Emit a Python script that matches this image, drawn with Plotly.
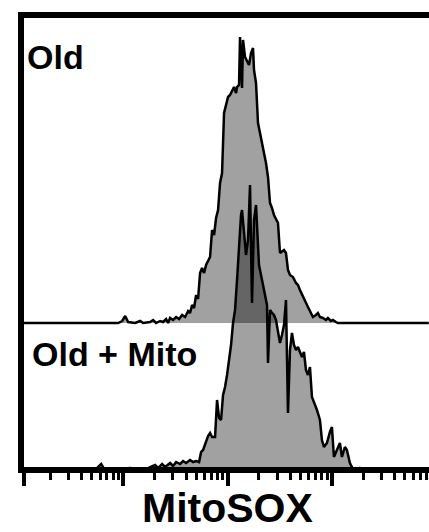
import numpy as np
import plotly.graph_objects as go

# MitoSOX intensity (log10 units) and event counts for each sample
old_log = [1.0335, 1.9522, 1.9904, 2.0191, 2.0478, 2.1148, 2.1627, 2.1914, 2.2584, 2.2871,
           2.3158, 2.3541, 2.3828, 2.4115, 2.4306, 2.4498, 2.4785, 2.5072, 2.5359, 2.5646,
           2.5933, 2.6220, 2.6411, 2.6603, 2.6794, 2.6986, 2.7177, 2.7368, 2.7560, 2.7751,
           2.7943, 2.8134, 2.8325, 2.8517, 2.8708, 2.8900, 2.9091, 2.9282, 2.9474, 2.9665,
           2.9856, 3.0048, 3.0239, 3.0431, 3.0622, 3.0813, 3.0909, 3.1100, 3.1196, 3.1388,
           3.1483, 3.1675, 3.1866, 3.2057, 3.2249, 3.2440, 3.2536, 3.2727, 3.2919, 3.3110,
           3.3301, 3.3493, 3.3684, 3.3876, 3.4067, 3.4258, 3.4450, 3.4641, 3.4833, 3.5024,
           3.5215, 3.5407, 3.5598, 3.5789, 3.5981, 3.6268, 3.6555, 3.6746, 3.6938, 3.7225,
           3.7416, 3.7703, 3.7895, 3.8182, 3.8469, 3.8660, 3.8852, 3.9139, 3.9426, 3.9617,
           3.9904, 4.0096, 4.0383, 4.0574, 4.9282]
old_counts = [0, 0, 2, 7, 1, 0, 2, 0, 1, 3,
              0, 2, 1, 4, 0, 5, 3, 6, 4, 8,
              6, 12, 10, 18, 15, 28, 24, 50, 55, 50,
              58, 62, 66, 93, 88, 105, 113, 140, 150, 210,
              218, 226, 228, 232, 236, 230, 236, 238, 286, 235,
              283, 266, 262, 258, 270, 275, 253, 240, 200, 190,
              183, 173, 160, 146, 120, 115, 108, 104, 100, 70,
              72, 73, 70, 53, 48, 46, 40, 38, 33, 26,
              22, 16, 12, 6, 8, 10, 6, 5, 3, 5,
              2, 3, 1, 0, 0]

mito_log = [1.0335, 1.7321, 1.7608, 1.7895, 1.8182, 1.8756, 2.0670, 2.2105, 2.2584, 2.3062,
            2.3349, 2.3732, 2.4019, 2.4498, 2.4785, 2.5072, 2.5455, 2.5742, 2.6029, 2.6411,
            2.6699, 2.6986, 2.7273, 2.7464, 2.7656, 2.7943, 2.8134, 2.8325, 2.8517, 2.8804,
            2.8995, 2.9187, 2.9378, 2.9569, 2.9761, 2.9952, 3.0144, 3.0335, 3.0526, 3.0718,
            3.0909, 3.1100, 3.1292, 3.1388, 3.1579, 3.1770, 3.1962, 3.2153, 3.2344, 3.2536,
            3.2727, 3.2823, 3.3014, 3.3206, 3.3397, 3.3589, 3.3780, 3.3876, 3.4067, 3.4258,
            3.4450, 3.4641, 3.4833, 3.5024, 3.5215, 3.5407, 3.5598, 3.5789, 3.5981, 3.6172,
            3.6364, 3.6555, 3.6746, 3.6938, 3.7129, 3.7321, 3.7512, 3.7703, 3.7895, 3.8086,
            3.8278, 3.8565, 3.8852, 3.9043, 3.9234, 3.9522, 3.9809, 4.0000, 4.0191, 4.0478,
            4.0766, 4.0957, 4.1244, 4.1435, 4.1722, 4.1914, 4.2105, 4.2679, 4.2967, 4.9282]
mito_counts = [0, 0, 3, 6, 1, 0, 2, 0, 3, 5,
               2, 6, 3, 7, 4, 8, 6, 9, 7, 10,
               8, 9, 8, 18, 20, 28, 34, 37, 33, 33,
               70, 52, 50, 75, 83, 95, 110, 125, 147, 160,
               190, 225, 255, 260, 235, 215, 230, 285, 167, 250,
               265, 240, 205, 195, 185, 175, 165, 107, 160, 157,
               155, 150, 140, 127, 135, 145, 170, 57, 120, 137,
               125, 120, 123, 118, 113, 118, 100, 95, 103, 73,
               68, 60, 50, 30, 23, 27, 38, 43, 13, 20,
               27, 13, 23, 20, 7, 3, 0, 2, 0, 0]

labels = ["Old", "Old + Mito"]
x_title = "MitoSOX"
stack_offset = 147  # vertical offset of the upper ("Old") histogram

FONT = "Liberation Sans, Arial, sans-serif"
fill_col = "rgba(0,0,0,0.37)"

old_x = 10 ** np.array(old_log)
mito_x = 10 ** np.array(mito_log)

fig = go.Figure()
# baseline for upper histogram
fig.add_trace(go.Scatter(x=old_x, y=[stack_offset] * len(old_x), mode="lines",
                         line=dict(width=0), showlegend=False, hoverinfo="skip"))
fig.add_trace(go.Scatter(x=old_x, y=np.array(old_counts) + stack_offset, mode="lines",
                         fill="tonexty", fillcolor=fill_col,
                         line=dict(color="black", width=2.5), showlegend=False))
fig.add_trace(go.Scatter(x=mito_x, y=mito_counts, mode="lines",
                         fill="tozeroy", fillcolor=fill_col,
                         line=dict(color="black", width=2.5), showlegend=False))

x_min, x_max = 1.05, 4.93
major = [10 ** x_min, 100, 1000, 10000]
minor = [m * 10 ** e for e in range(1, 5) for m in range(2, 10)]

fig.update_xaxes(type="log", range=[x_min, x_max], showgrid=False, zeroline=False,
                 showline=True, linecolor="black", linewidth=6, mirror=True,
                 ticks="outside", tickvals=major, ticklen=13, tickwidth=3.5, tickcolor="black",
                 showticklabels=False,
                 minor=dict(tickvals=minor, ticks="outside", ticklen=7, tickwidth=2.5,
                            tickcolor="black", showgrid=False))
fig.update_yaxes(range=[3, 452], showgrid=False, zeroline=False, showline=True,
                 linecolor="black", linewidth=6, mirror=False, ticks="",
                 showticklabels=False)

W, H = 429, 532
L, R, T, B = 24, 0, 18, 65
pw, ph = W - L - R, H - T - B

def px(x):
    return (x - L) / pw

def py(y):
    return (H - B - y) / ph

fig.add_annotation(x=px(25), y=py(57), xref="paper", yref="paper", text=labels[0],
                   showarrow=False, xanchor="left", yanchor="middle",
                   font=dict(family=FONT, size=34, color="black", weight="bold"))
fig.add_annotation(x=px(30), y=py(354), xref="paper", yref="paper", text=labels[1],
                   showarrow=False, xanchor="left", yanchor="middle",
                   font=dict(family=FONT, size=34, color="black", weight="bold"))
fig.add_annotation(x=px(228), y=py(508), xref="paper", yref="paper", text=x_title,
                   showarrow=False, xanchor="center", yanchor="middle",
                   font=dict(family=FONT, size=41, color="black", weight="bold"))

fig.update_layout(width=W, height=H, margin=dict(l=L, r=R, t=T, b=B),
                  plot_bgcolor="white", paper_bgcolor="white", showlegend=False)

fig.write_html("out.html")
